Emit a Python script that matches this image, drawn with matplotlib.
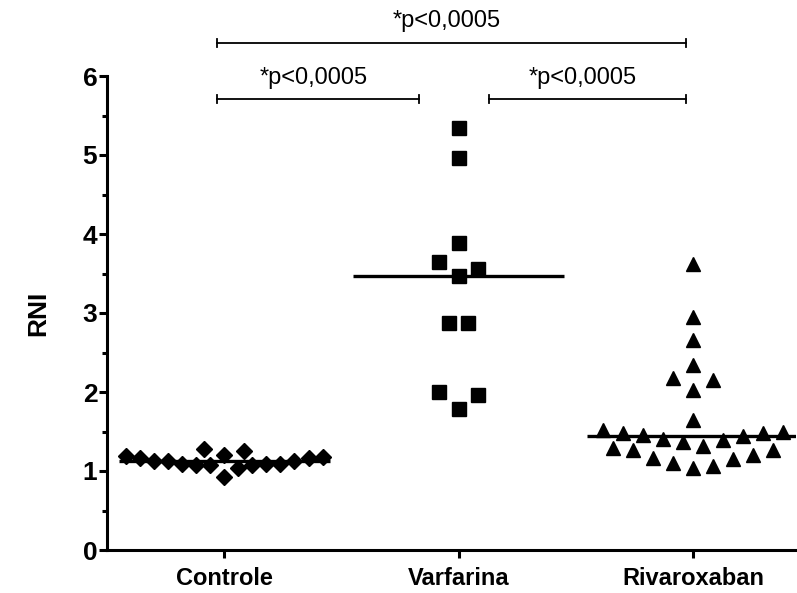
import matplotlib
matplotlib.use("Agg")
import matplotlib.pyplot as plt
import numpy as np

plt.rcParams["font.family"] = ["Liberation Sans", "DejaVu Sans"]

# values (RNI)
groups = ["Controle", "Varfarina", "Rivaroxaban"]
controle = [1.19, 1.18, 1.13, 1.13, 1.09, 1.09, 1.25, 1.08, 1.20, 0.93,
            1.04, 1.28, 1.07, 1.08, 1.09, 1.13, 1.16, 1.16]
varfarina = [5.34, 4.96, 3.89, 3.65, 3.56, 3.47, 2.87, 2.87, 2.00, 1.96, 1.78]
rivaroxaban = [3.62, 2.95, 2.66, 2.34, 2.15, 2.18, 2.03, 1.64, 1.52, 1.29,
               1.48, 1.27, 1.46, 1.16, 1.40, 1.10, 1.37, 1.04, 1.32, 1.06,
               1.39, 1.15, 1.44, 1.20, 1.48, 1.27, 1.50]
markers = ["D", "s", "^"]
p_label = "*p<0,0005"
comparisons = [(0, 1), (1, 2), (0, 2)]


def row_offsets(values, span=0.265, step=0.085, max_half=0.42):
    """Scatter-dot layout: close values share a row, spread out from the centre."""
    vals = np.asarray(values, dtype=float)
    order = np.argsort(vals, kind="stable")
    rows = []
    for i in order:
        if rows and vals[i] - vals[rows[-1][0]] <= span:
            rows[-1].append(i)
        else:
            rows.append([i])
    offsets = np.zeros(len(vals))
    for row in rows:
        n = len(row)
        s = step if n < 2 else min(step, 2 * max_half / (n - 1))
        for k, i in enumerate(row):
            if n % 2:
                slot = (k + 1) // 2 * (1 if k % 2 else -1)
            else:
                slot = (k // 2 + 0.5) * (1 if k % 2 == 0 else -1)
            offsets[i] = slot * s
    return offsets


fig = plt.figure(figsize=(7.97, 5.93), dpi=100)
ax = fig.add_axes([107 / 797, 1 - 550 / 593, 689 / 797, 474 / 593])

for i, (vals, mk) in enumerate(zip([controle, varfarina, rivaroxaban], markers)):
    x = i + row_offsets(vals)
    ms = 7.8 if mk == "D" else 9.5
    ax.plot(x, vals, linestyle="none", marker=mk, markersize=ms,
            color="black", clip_on=False, zorder=3)
    ax.hlines(np.median(vals), i - 0.45, i + 0.45, color="black", lw=2.4, zorder=2)

# significance brackets above the plot
for a, b in comparisons:
    top = (b - a) > 1
    x0, x1 = a - 0.03, b - 0.03
    if not top:
        if a == 1:
            x0 = a + 0.13
        if b == 1:
            x1 = b - 0.17
    yb = 6.42 if top else 5.71
    ax.plot([x0, x1], [yb, yb], color="black", lw=1.3, clip_on=False)
    for xe in (x0, x1):
        ax.plot([xe, xe], [yb - 0.05, yb + 0.05], color="black", lw=1.3, clip_on=False)
    ax.text((x0 + x1) / 2 - 0.02, yb + 0.27, p_label, ha="center", va="center",
            fontsize=17, clip_on=False)

ax.set_xlim(-0.5, 2.44)
ax.set_ylim(0, 6)
ax.set_xticks(range(len(groups)))
ax.set_xticklabels(groups, fontsize=17, fontweight="bold")
ax.set_yticks(range(0, 7))
ax.set_yticklabels([str(v) for v in range(0, 7)], fontsize=19, fontweight="bold")
ax.set_yticks(np.arange(0.5, 6, 1.0), minor=True)
ax.set_ylabel("RNI", fontsize=19, fontweight="bold")
ax.yaxis.set_label_coords(-0.083, 0.5)

for side in ["top", "right"]:
    ax.spines[side].set_visible(False)
for side in ["left", "bottom"]:
    ax.spines[side].set_linewidth(2.2)
ax.tick_params(axis="both", which="major", width=2.2, length=6, color="black")
ax.tick_params(axis="y", which="minor", width=2.2, length=3.5)
ax.tick_params(axis="y", pad=1)
ax.tick_params(axis="x", pad=6)

fig.savefig("out.png", dpi=100)
